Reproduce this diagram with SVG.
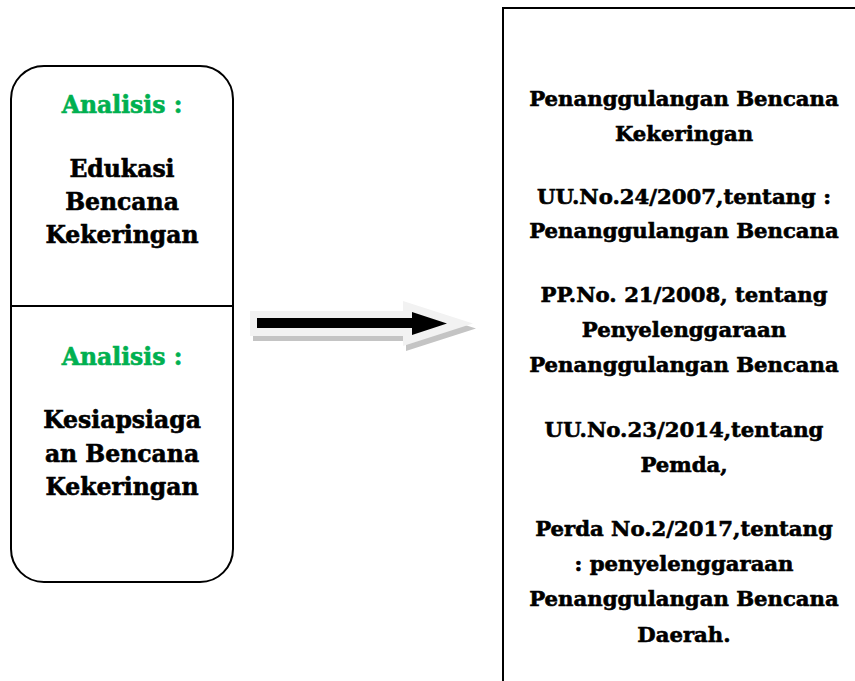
<svg xmlns="http://www.w3.org/2000/svg" width="855" height="681" viewBox="0 0 855 681">
<style>
.box{fill:#ffffff;stroke:#000000;stroke-width:2}
.t{font-family:"DejaVu Serif","Liberation Serif",serif;font-weight:bold;text-anchor:middle;fill:#000000;stroke:#000000;stroke-width:0.6;paint-order:stroke}
.l{font-size:23.5px}
.r{font-size:21.2px}
.g{fill:#00B050;stroke:#00B050}
</style>
<rect width="855" height="681" fill="#ffffff"/>
<g id="node-left">
<rect class="box" x="11" y="66" width="222" height="516" rx="33" ry="33"/>
<line x1="11" y1="306" x2="233" y2="306" stroke="#000" stroke-width="2"/>
<text class="t l g" x="122" y="113">Analisis :</text>
<text class="t l" x="122" y="177">Edukasi</text>
<text class="t l" x="122" y="210">Bencana</text>
<text class="t l" x="122" y="243">Kekeringan</text>
<text class="t l g" x="122" y="365">Analisis :</text>
<text class="t l" x="122" y="428">Kesiapsiaga</text>
<text class="t l" x="122" y="462">an Bencana</text>
<text class="t l" x="122" y="495">Kekeringan</text>
</g>
<g id="connectors">
<polygon points="253,316 406,316 406,306 476,328.5 406,351 406,341 253,341" fill="#c4c4c4"/>
<polygon points="250,311 403,311 403,301 473,323.5 403,346 403,336 250,336" fill="#f2f2f2"/>
<polygon points="257,318 412,318 412,312 447,323.5 412,335 412,328 257,328" fill="#000000"/>
</g>
<g id="node-right">
<rect class="box" x="503" y="8" width="370" height="700"/>
<text class="t r" x="684" y="106">Penanggulangan Bencana</text>
<text class="t r" x="684" y="141">Kekeringan</text>
<text class="t r" x="684" y="204">UU.No.24/2007,tentang :</text>
<text class="t r" x="684" y="238">Penanggulangan Bencana</text>
<text class="t r" x="684" y="302">PP.No. 21/2008, tentang</text>
<text class="t r" x="684" y="337">Penyelenggaraan</text>
<text class="t r" x="684" y="372">Penanggulangan Bencana</text>
<text class="t r" x="684" y="437">UU.No.23/2014,tentang</text>
<text class="t r" x="684" y="472">Pemda,</text>
<text class="t r" x="684" y="536">Perda No.2/2017,tentang</text>
<text class="t r" x="684" y="571">: penyelenggaraan</text>
<text class="t r" x="684" y="606">Penanggulangan Bencana</text>
<text class="t r" x="684" y="642">Daerah.</text>
</g>
</svg>
